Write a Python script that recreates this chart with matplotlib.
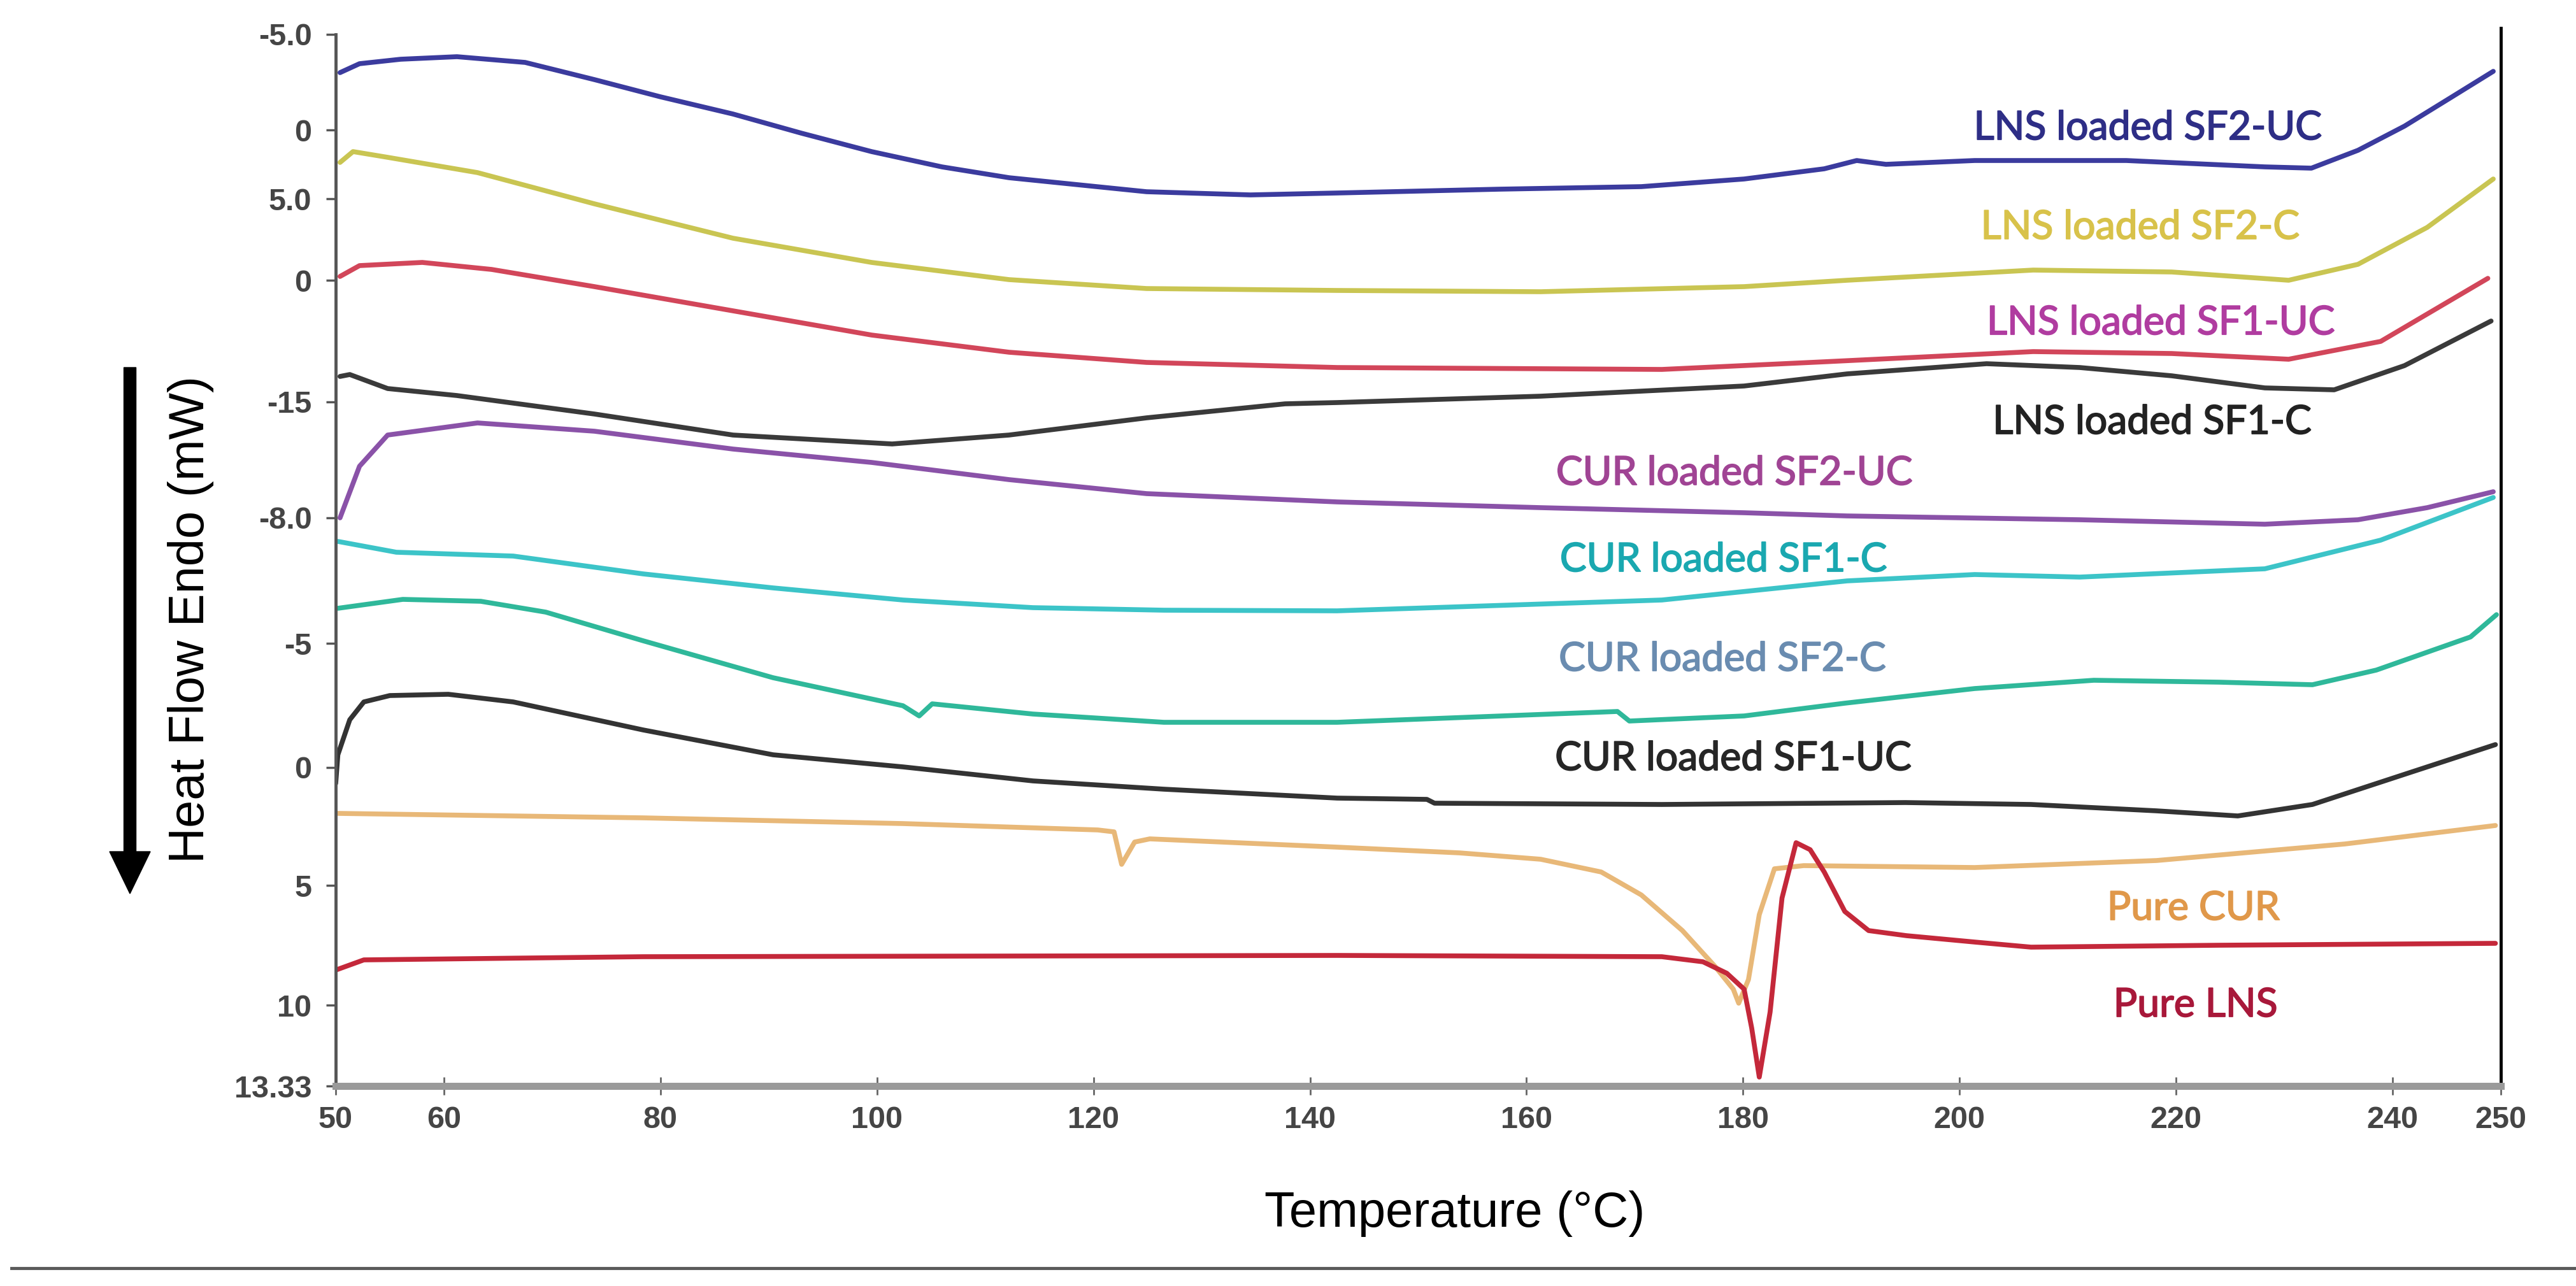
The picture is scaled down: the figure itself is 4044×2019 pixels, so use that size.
import matplotlib
matplotlib.use("Agg")
import matplotlib.pyplot as plt
import matplotlib.patheffects as pe
from matplotlib.patches import FancyArrow
from matplotlib.transforms import IdentityTransform
from matplotlib.lines import Line2D

# DSC traces, stacked with offsets
lns_sf2_uc_t = [50.4, 52.2, 56.0, 61.2, 67.5, 73.9, 80.0, 86.7, 93.0, 99.5, 106.0, 112.2, 124.9, 134.5,
                142.5, 157.5, 170.6, 180.1, 187.5, 190.5, 193.2, 201.4, 215.4, 228.2, 232.5, 236.8,
                241.1, 245.4, 249.3]
lns_sf2_uc_y = [15.91, 16.05, 16.12, 16.16, 16.07, 15.80, 15.53, 15.26, 14.96, 14.67, 14.43, 14.26,
                14.04, 13.99, 14.02, 14.08, 14.12, 14.24, 14.40, 14.53, 14.47, 14.53, 14.53, 14.43,
                14.41, 14.69, 15.07, 15.52, 15.93]

lns_sf2_c_t = [50.4, 51.6, 54.8, 63.1, 73.9, 86.7, 99.5, 112.2, 124.9, 142.5, 161.3, 180.1, 189.6,
               206.8, 219.6, 230.4, 236.8, 243.2, 249.3]
lns_sf2_c_y = [14.50, 14.67, 14.58, 14.34, 13.85, 13.31, 12.93, 12.66, 12.52, 12.49, 12.47, 12.55, 12.65,
               12.81, 12.78, 12.65, 12.90, 13.48, 14.24]

lns_sf1_uc_t = [50.4, 52.2, 58.0, 64.4, 73.9, 86.7, 99.5, 112.2, 124.9, 142.5, 172.5, 187.5, 206.8,
                219.6, 230.4, 238.9, 248.8]
lns_sf1_uc_y = [12.71, 12.88, 12.93, 12.82, 12.55, 12.17, 11.79, 11.52, 11.36, 11.28, 11.25, 11.37, 11.53,
                11.50, 11.41, 11.69, 12.68]

lns_sf1_c_t = [50.4, 51.3, 54.8, 61.2, 73.9, 86.7, 101.4, 112.2, 124.9, 137.7, 142.5, 161.3, 180.1,
               189.6, 202.5, 211.1, 219.6, 228.2, 234.6, 241.1, 249.1]
lns_sf1_c_y = [11.14, 11.17, 10.95, 10.84, 10.55, 10.22, 10.08, 10.22, 10.49, 10.71, 10.73, 10.83, 10.99,
               11.18, 11.34, 11.28, 11.15, 10.96, 10.93, 11.31, 12.01]

cur_sf2_uc_t = [50.4, 52.2, 54.8, 63.1, 73.9, 86.7, 99.5, 112.2, 124.9, 142.5, 161.3, 180.1, 189.6,
                211.1, 228.2, 236.8, 243.2, 249.3]
cur_sf2_uc_y = [8.92, 9.73, 10.22, 10.41, 10.28, 10.00, 9.79, 9.52, 9.30, 9.17, 9.08, 9.00, 8.95,
                8.89, 8.82, 8.89, 9.08, 9.33]

cur_sf1_c_t = [50.2, 55.6, 66.4, 78.4, 90.4, 102.4, 114.4, 126.5, 142.5, 172.5, 189.6, 201.4, 211.1,
               228.2, 238.9, 249.3]
cur_sf1_c_y = [8.55, 8.38, 8.32, 8.04, 7.82, 7.63, 7.51, 7.47, 7.46, 7.63, 7.93, 8.03, 7.99,
               8.12, 8.57, 9.24]

cur_sf2_c_t = [50.2, 56.2, 63.4, 69.4, 78.4, 90.4, 102.4, 103.9, 105.1, 114.4, 126.5, 142.5, 168.4,
               169.5, 180.1, 189.4, 201.4, 212.4, 224.0, 232.6, 238.5, 247.2, 249.6]
cur_sf2_c_y = [7.50, 7.64, 7.61, 7.44, 6.99, 6.41, 5.97, 5.81, 6.00, 5.84, 5.71, 5.71, 5.88,
               5.73, 5.81, 6.01, 6.24, 6.37, 6.34, 6.30, 6.53, 7.05, 7.40]

cur_sf1_uc_t = [50.0, 50.2, 51.3, 52.6, 55.0, 60.4, 66.4, 78.4, 90.4, 102.4, 114.4, 126.5, 142.5, 150.8,
                151.5, 172.5, 195.0, 206.6, 218.2, 225.7, 232.6, 241.4, 249.5]
cur_sf1_uc_y = [4.75, 5.20, 5.75, 6.03, 6.13, 6.15, 6.03, 5.59, 5.20, 5.01, 4.79, 4.66, 4.52, 4.50,
                4.44, 4.42, 4.45, 4.42, 4.32, 4.24, 4.42, 4.91, 5.36]

pure_cur_t = [50.2, 78.4, 102.4, 120.4, 121.9, 122.6, 123.8, 125.2, 142.5, 153.8, 161.3, 166.9, 170.6,
              174.4, 177.4, 179.1, 179.6, 180.5, 181.5, 182.9, 185.6, 201.4, 218.2, 235.6, 249.5]
pure_cur_y = [4.28, 4.21, 4.12, 4.02, 3.99, 3.48, 3.83, 3.88, 3.75, 3.66, 3.56, 3.36, 3.00,
              2.44, 1.88, 1.52, 1.30, 1.67, 2.69, 3.41, 3.46, 3.43, 3.54, 3.80, 4.09]

pure_lns_t = [50.0, 52.6, 78.4, 142.5, 172.5, 176.3, 178.5, 180.1, 180.8, 181.5, 182.5, 183.6, 184.9,
              186.2, 187.5, 189.4, 191.6, 195.1, 201.4, 206.6, 224.0, 249.5]
pure_lns_y = [1.82, 1.98, 2.03, 2.05, 2.03, 1.95, 1.77, 1.52, 0.91, 0.14, 1.16, 2.95, 3.82,
              3.71, 3.36, 2.74, 2.44, 2.36, 2.26, 2.18, 2.21, 2.24]

names = ["LNS loaded SF2-UC", "LNS loaded SF2-C", "LNS loaded SF1-UC", "LNS loaded SF1-C",
         "CUR loaded SF2-UC", "CUR loaded SF1-C", "CUR loaded SF2-C", "CUR loaded SF1-UC",
         "Pure CUR", "Pure LNS"]
temps = [lns_sf2_uc_t, lns_sf2_c_t, lns_sf1_uc_t, lns_sf1_c_t, cur_sf2_uc_t, cur_sf1_c_t,
         cur_sf2_c_t, cur_sf1_uc_t, pure_cur_t, pure_lns_t]
flows = [lns_sf2_uc_y, lns_sf2_c_y, lns_sf1_uc_y, lns_sf1_c_y, cur_sf2_uc_y, cur_sf1_c_y,
         cur_sf2_c_y, cur_sf1_uc_y, pure_cur_y, pure_lns_y]

line_colors = ["#3b3b9e", "#c9c552", "#d2465a", "#3a3a3a", "#8a52a8", "#3cc4c8",
               "#2fb89a", "#333333", "#e8b878", "#c4283a"]
text_colors = ["#2e2e86", "#d8c24a", "#b03ca0", "#222222", "#a04494", "#1aa8b0",
               "#6a8cb0", "#262626", "#e0984a", "#a8183a"]
label_xy = [(217.4, 15.04), (216.7, 13.48), (218.6, 11.98), (217.8, 10.42), (179.2, 9.62),
            (178.2, 8.26), (178.1, 6.70), (179.1, 5.14), (221.6, 2.79), (221.8, 1.27)]

xtick_vals = [50, 60, 80, 100, 120, 140, 160, 180, 200, 220, 240, 250]
ytick_pos = [16.51, 15.01, 13.93, 12.65, 10.74, 8.92, 6.95, 5.00, 3.15, 1.27, 0.0]
ytick_txt = ["-5.0", "0", "5.0", "0", "-15", "-8.0", "-5", "0", "5", "10", "13.33"]

W, H = 4044, 2019
fig = plt.figure(figsize=(W / 100, H / 100), dpi=100)
ax = fig.add_axes([527 / W, 1 - 1705 / H, (3926 - 527) / W, (1705 - 44) / H])

for t, y, c in zip(temps, flows, line_colors):
    ax.plot(t, y, color=c, lw=5.5, solid_joinstyle="round", solid_capstyle="round")

for (lx, ly), name, c in zip(label_xy, names, text_colors):
    ax.text(lx, ly, name, color=c, fontsize=45, family="Lato", ha="center", va="center",
            path_effects=[pe.withStroke(linewidth=1.3, foreground=c)])

ax.set_xlim(50, 250)
ax.set_ylim(0, 16.61)

ax.set_xticks(xtick_vals)
ax.set_xticklabels([str(v) for v in xtick_vals])
ax.set_yticks(ytick_pos)
ax.set_yticklabels(ytick_txt)
for lab in ax.get_xticklabels() + ax.get_yticklabels():
    lab.set_fontfamily("Liberation Sans")
    lab.set_fontweight("bold")
    lab.set_fontsize(35)
    lab.set_color("#454545")
ax.tick_params(axis="x", direction="inout", length=20, width=2, color="#666666", pad=12)
ax.tick_params(axis="y", direction="out", length=11, width=2.5, color="#555555", pad=16)

ax.spines["top"].set_visible(False)
ax.spines["left"].set_color("#555555")
ax.spines["left"].set_linewidth(3.5)
ax.spines["left"].set_bounds(0, 16.51)
ax.spines["bottom"].set_color("#9a9a9a")
ax.spines["bottom"].set_linewidth(8)
ax.spines["right"].set_color("black")
ax.spines["right"].set_linewidth(3.5)

fig.text(2284 / W, 1 - 1905 / H, "Temperature (°C)", fontsize=56, family="Liberation Sans",
         ha="center", va="center")
fig.text(300 / W, 1 - 972 / H, "Heat Flow Endo (mW)", fontsize=56, family="Liberation Sans",
         rotation=90, ha="center", va="center")

# arrow next to the y label, and the rule under the figure
arrow = FancyArrow(204, H - 577, 0, -(1403 - 577), width=19, head_width=64, head_length=66,
                   length_includes_head=True, color="black", transform=IdentityTransform())
fig.add_artist(arrow)
fig.add_artist(Line2D([18 / W, 1.0], [1 - 1991 / H] * 2, color="#5a5a5a", lw=3.5,
                      transform=fig.transFigure))

fig.savefig("out.png", dpi=100, facecolor="white")
